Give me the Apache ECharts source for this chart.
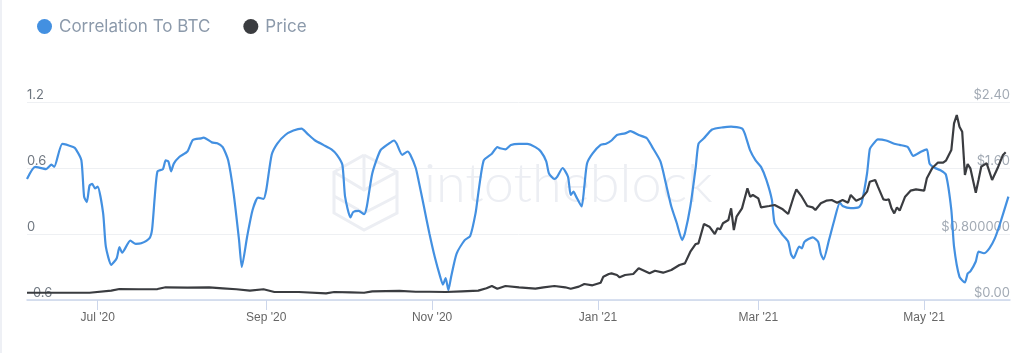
<!DOCTYPE html>
<html>
<head>
<meta charset="utf-8">
<script src="https://cdn.jsdelivr.net/npm/echarts@6/dist/echarts.min.js"></script>
<style>
  html, body { margin: 0; padding: 0; background: #fff; }
  #chart { width: 1035px; height: 353px; border-left: 2px solid #eef0f5; box-sizing: border-box; }
</style>
</head>
<body>
<div id="chart"></div>
<script>
// correlation to BTC, [date, value]
const correlation = [
  ['2020-06-05',0.50],['2020-06-08',0.61],['2020-06-12',0.59],['2020-06-14',0.63],['2020-06-15',0.61],
  ['2020-06-18',0.82],['2020-06-22',0.79],['2020-06-23',0.77],['2020-06-25',0.67],['2020-06-26',0.34],
  ['2020-06-27',0.29],['2020-06-28',0.44],['2020-06-29',0.455],['2020-06-30',0.415],['2020-07-01',0.43],
  ['2020-07-03',0.19],['2020-07-04',-0.115],['2020-07-06',-0.28],['2020-07-08',-0.22],['2020-07-09',-0.12],
  ['2020-07-10',-0.17],['2020-07-13',-0.06],['2020-07-15',-0.09],['2020-07-17',-0.085],['2020-07-20',-0.04],
  ['2020-07-21',0.04],['2020-07-22',0.34],['2020-07-23',0.57],['2020-07-25',0.59],['2020-07-26',0.67],
  ['2020-07-27',0.66],['2020-07-28',0.57],['2020-07-29',0.64],['2020-07-31',0.70],['2020-08-03',0.75],
  ['2020-08-05',0.855],['2020-08-08',0.87],['2020-08-09',0.876],['2020-08-12',0.833],['2020-08-14',0.825],
  ['2020-08-16',0.79],['2020-08-18',0.67],['2020-08-20',0.37],['2020-08-22',-0.055],['2020-08-23',-0.30],
  ['2020-08-25',-0.02],['2020-08-27',0.22],['2020-08-29',0.33],['2020-08-31',0.32],['2020-09-01',0.40],
  ['2020-09-03',0.72],['2020-09-05',0.82],['2020-09-08',0.90],['2020-09-11',0.94],['2020-09-14',0.958],
  ['2020-09-16',0.915],['2020-09-19',0.85],['2020-09-22',0.81],['2020-09-25',0.77],['2020-09-27',0.72],
  ['2020-09-29',0.63],['2020-09-30',0.34],['2020-10-02',0.15],['2020-10-03',0.20],['2020-10-05',0.21],
  ['2020-10-07',0.18],['2020-10-08',0.25],['2020-10-10',0.55],['2020-10-13',0.76],['2020-10-16',0.82],
  ['2020-10-18',0.85],['2020-10-19',0.82],['2020-10-21',0.72],['2020-10-23',0.75],['2020-10-24',0.72],
  ['2020-10-26',0.60],['2020-10-27',0.49],['2020-10-29',0.25],['2020-10-31',0.006],['2020-11-02',-0.21],
  ['2020-11-04',-0.39],['2020-11-05',-0.46],['2020-11-06',-0.40],['2020-11-07',-0.51],['2020-11-08',-0.39],
  ['2020-11-10',-0.18],['2020-11-13',-0.055],['2020-11-15',-0.02],['2020-11-17',0.19],['2020-11-18',0.37],
  ['2020-11-20',0.67],['2020-11-23',0.73],['2020-11-25',0.79],['2020-11-26',0.78],['2020-11-28',0.77],
  ['2020-11-30',0.81],['2020-12-03',0.82],['2020-12-06',0.82],['2020-12-09',0.79],['2020-12-11',0.75],
  ['2020-12-13',0.66],['2020-12-14',0.55],['2020-12-16',0.50],['2020-12-17',0.52],['2020-12-19',0.60],
  ['2020-12-21',0.52],['2020-12-22',0.355],['2020-12-23',0.385],['2020-12-24',0.34],['2020-12-26',0.25],
  ['2020-12-27',0.43],['2020-12-28',0.64],['2020-12-30',0.73],['2021-01-02',0.81],['2021-01-04',0.82],
  ['2021-01-06',0.85],['2021-01-08',0.90],['2021-01-11',0.915],['2021-01-13',0.936],['2021-01-16',0.90],
  ['2021-01-19',0.87],['2021-01-21',0.79],['2021-01-24',0.66],['2021-01-26',0.46],['2021-01-28',0.25],
  ['2021-01-30',0.10],['2021-02-01',-0.055],['2021-02-02',0.006],['2021-02-04',0.25],['2021-02-06',0.61],
  ['2021-02-07',0.82],['2021-02-09',0.87],['2021-02-12',0.95],['2021-02-16',0.97],['2021-02-19',0.976],
  ['2021-02-23',0.96],['2021-02-24',0.915],['2021-02-26',0.76],['2021-02-28',0.67],['2021-03-02',0.61],
  ['2021-03-04',0.49],['2021-03-06',0.31],['2021-03-07',0.10],['2021-03-10',-0.01],['2021-03-12',-0.07],
  ['2021-03-13',-0.18],['2021-03-14',-0.22],['2021-03-16',-0.115],['2021-03-17',-0.13],['2021-03-18',-0.07],
  ['2021-03-21',-0.03],['2021-03-23',-0.07],['2021-03-24',-0.18],['2021-03-25',-0.23],['2021-03-27',-0.055],
  ['2021-03-29',0.13],['2021-03-31',0.285],['2021-04-01',0.255],['2021-04-04',0.235],['2021-04-07',0.243],
  ['2021-04-08',0.28],['2021-04-10',0.55],['2021-04-11',0.77],['2021-04-12',0.81],['2021-04-14',0.86],
  ['2021-04-17',0.85],['2021-04-20',0.82],['2021-04-22',0.81],['2021-04-25',0.79],['2021-04-27',0.71],
  ['2021-04-30',0.75],['2021-05-02',0.77],['2021-05-03',0.64],['2021-05-05',0.60],['2021-05-07',0.58],
  ['2021-05-09',0.54],['2021-05-11',0.22],['2021-05-12',-0.115],['2021-05-14',-0.39],['2021-05-16',-0.44],
  ['2021-05-17',-0.36],['2021-05-18',-0.34],['2021-05-20',-0.25],['2021-05-21',-0.16],['2021-05-23',-0.175],
  ['2021-05-25',-0.13],['2021-05-27',-0.04],['2021-05-29',0.10],['2021-06-01',0.34]
];

// price in USD
const price = [
  ['2020-06-05',0.088],['2020-06-15',0.088],['2020-06-28',0.088],['2020-07-06',0.113],['2020-07-09',0.133],
  ['2020-07-16',0.13],['2020-07-23',0.133],['2020-07-26',0.154],['2020-08-03',0.15],['2020-08-11',0.154],
  ['2020-08-16',0.142],['2020-08-21',0.13],['2020-08-26',0.113],['2020-08-31',0.13],['2020-09-04',0.097],
  ['2020-09-13',0.097],['2020-09-23',0.081],['2020-09-26',0.097],['2020-10-02',0.093],['2020-10-07',0.088],
  ['2020-10-10',0.105],['2020-10-20',0.11],['2020-10-26',0.10],['2020-10-31',0.10],['2020-11-06',0.097],
  ['2020-11-12',0.105],['2020-11-18',0.113],['2020-11-21',0.142],['2020-11-23',0.17],['2020-11-25',0.137],
  ['2020-11-28',0.17],['2020-12-03',0.154],['2020-12-09',0.137],['2020-12-12',0.154],['2020-12-16',0.17],
  ['2020-12-20',0.154],['2020-12-22',0.137],['2020-12-25',0.162],['2020-12-27',0.194],['2020-12-30',0.178],
  ['2021-01-02',0.21],['2021-01-03',0.283],['2021-01-05',0.315],['2021-01-06',0.323],['2021-01-08',0.303],
  ['2021-01-09',0.275],['2021-01-11',0.303],['2021-01-14',0.315],['2021-01-16',0.384],['2021-01-20',0.323],
  ['2021-01-22',0.355],['2021-01-25',0.331],['2021-01-28',0.364],['2021-01-31',0.424],['2021-02-02',0.444],
  ['2021-02-04',0.585],['2021-02-06',0.679],['2021-02-07',0.687],['2021-02-09',0.921],['2021-02-11',0.889],
  ['2021-02-13',0.80],['2021-02-14',0.869],['2021-02-15',0.857],['2021-02-16',0.93],['2021-02-18',0.97],
  ['2021-02-19',1.111],['2021-02-20',0.848],['2021-02-21',1.01],['2021-02-23',1.111],['2021-02-25',1.354],
  ['2021-02-26',1.252],['2021-02-27',1.273],['2021-03-01',1.232],['2021-03-02',1.123],['2021-03-05',1.139],
  ['2021-03-07',1.152],['2021-03-10',1.099],['2021-03-12',1.042],['2021-03-14',1.252],['2021-03-15',1.341],
  ['2021-03-17',1.252],['2021-03-19',1.139],['2021-03-21',1.123],['2021-03-22',1.091],['2021-03-24',1.172],
  ['2021-03-26',1.204],['2021-03-28',1.212],['2021-03-30',1.18],['2021-04-01',1.212],['2021-04-03',1.18],
  ['2021-04-04',1.273],['2021-04-06',1.204],['2021-04-08',1.232],['2021-04-10',1.313],['2021-04-11',1.434],
  ['2021-04-13',1.455],['2021-04-14',1.374],['2021-04-16',1.22],['2021-04-17',1.212],['2021-04-18',1.22],
  ['2021-04-19',1.111],['2021-04-20',1.05],['2021-04-21',1.123],['2021-04-22',1.083],['2021-04-24',1.252],
  ['2021-04-26',1.325],['2021-04-28',1.341],['2021-05-01',1.325],['2021-05-02',1.475],['2021-05-04',1.60],
  ['2021-05-06',1.664],['2021-05-08',1.664],['2021-05-09',1.689],['2021-05-11',1.818],['2021-05-12',2.141],
  ['2021-05-13',2.242],['2021-05-14',2.10],['2021-05-15',2.04],['2021-05-16',1.515],['2021-05-17',1.648],
  ['2021-05-18',1.596],['2021-05-20',1.30],['2021-05-21',1.455],['2021-05-22',1.616],['2021-05-24',1.657],
  ['2021-05-26',1.455],['2021-05-28',1.596],['2021-05-29',1.677],['2021-05-30',1.758],['2021-05-31',1.79]
];

const xTickDates = ['2020-07-01', '2020-09-01', '2020-11-01', '2021-01-01', '2021-03-01', '2021-05-01'];
const monthNames = ['Jan','Feb','Mar','Apr','May','Jun','Jul','Aug','Sep','Oct','Nov','Dec'];

function toTime(s) {
  const p = s.split('-');
  return new Date(+p[0], +p[1] - 1, +p[2]).getTime();
}
const xTicks = xTickDates.map(toTime);

// faint watermark logo (cube outline)
const logoStroke = { stroke: '#eceef3', lineWidth: 3, fill: null };

const chart = echarts.init(document.getElementById('chart'));
chart.setOption({
  animation: false,
  textStyle: { fontFamily: 'Inter, "Noto Sans", sans-serif' },
  legend: {
    left: 30,
    top: 13,
    icon: 'circle',
    itemWidth: 15,
    itemHeight: 15,
    itemGap: 33,
    textStyle: { fontSize: 17, color: '#8c9aab', padding: [0, 0, 0, 2] },
    data: ['Correlation To BTC', 'Price']
  },
  graphic: [{
    type: 'text',
    left: 422,
    top: 158,
    silent: true,
    z: 0,
    style: {
      text: 'intotheblock',
      fontSize: 54,
      fontFamily: 'Lato, sans-serif',
      fontWeight: 300,
      fill: '#eceef3'
    }
  }, {
    type: 'polyline',
    silent: true,
    z: 0,
    shape: { points: [[362, 155], [395, 172], [395, 213], [362, 230], [332, 213], [332, 172], [362, 155]] },
    style: logoStroke
  }, {
    type: 'polyline',
    silent: true,
    z: 0,
    shape: { points: [[332, 172], [362, 190], [395, 172]] },
    style: logoStroke
  }, {
    type: 'polyline',
    silent: true,
    z: 0,
    shape: { points: [[332, 196], [362, 213], [395, 196]] },
    style: logoStroke
  }, {
    type: 'line',
    silent: true,
    z: 0,
    shape: { x1: 362, y1: 155, x2: 362, y2: 190 },
    style: logoStroke
  }],
  grid: { left: 25, right: 25, top: 102, bottom: 53 },
  xAxis: {
    type: 'value',
    min: toTime('2020-06-05'),
    max: toTime('2021-06-01') + 14 * 3600 * 1000,
    axisLine: { onZero: false, lineStyle: { color: '#ccd6eb', width: 1.5 } },
    axisTick: { show: true, length: 10, customValues: xTicks, lineStyle: { color: '#ccd6eb' } },
    axisLabel: {
      customValues: xTicks,
      margin: 12,
      fontSize: 12,
      color: '#666',
      fontFamily: '"Liberation Sans Narrow", "Liberation Sans", sans-serif',
      formatter: function (v) {
        const d = new Date(v);
        return monthNames[d.getMonth()] + " '" + String(d.getFullYear()).slice(2);
      }
    },
    splitLine: { show: false }
  },
  yAxis: [{
    type: 'value',
    min: -0.6,
    max: 1.2,
    interval: 0.6,
    axisLine: { show: false },
    axisTick: { show: false },
    axisLabel: {
      inside: true,
      margin: 0,
      verticalAlign: 'bottom',
      fontSize: 13,
      color: '#6f7780',
      formatter: function (v) { return v === 0 ? '0' : String(+v.toFixed(1)); }
    },
    splitLine: { lineStyle: { color: '#eef0f3', width: 1 } }
  }, {
    type: 'value',
    min: 0,
    max: 2.4,
    interval: 0.8,
    position: 'right',
    axisLine: { show: false },
    axisTick: { show: false },
    axisLabel: {
      inside: true,
      margin: 0,
      verticalAlign: 'bottom',
      fontSize: 13,
      color: '#a2aab4',
      formatter: function (v) {
        const r = Math.round(v * 100) / 100;
        return r === 0.8 ? '$0.800000' : '$' + r.toFixed(2);
      }
    },
    splitLine: { show: false }
  }],
  series: [{
    name: 'Correlation To BTC',
    type: 'line',
    yAxisIndex: 0,
    showSymbol: false,
    symbol: 'circle',
    smooth: 0.2,
    lineStyle: { width: 2.2, color: '#4390e1' },
    itemStyle: { color: '#4390e1' },
    data: correlation.map(d => [toTime(d[0]), d[1]])
  }, {
    name: 'Price',
    type: 'line',
    yAxisIndex: 1,
    showSymbol: false,
    symbol: 'circle',
    lineStyle: { width: 2.2, color: '#3a3c40' },
    itemStyle: { color: '#3a3c40' },
    data: price.map(d => [toTime(d[0]), d[1]])
  }]
});
</script>
</body>
</html>
